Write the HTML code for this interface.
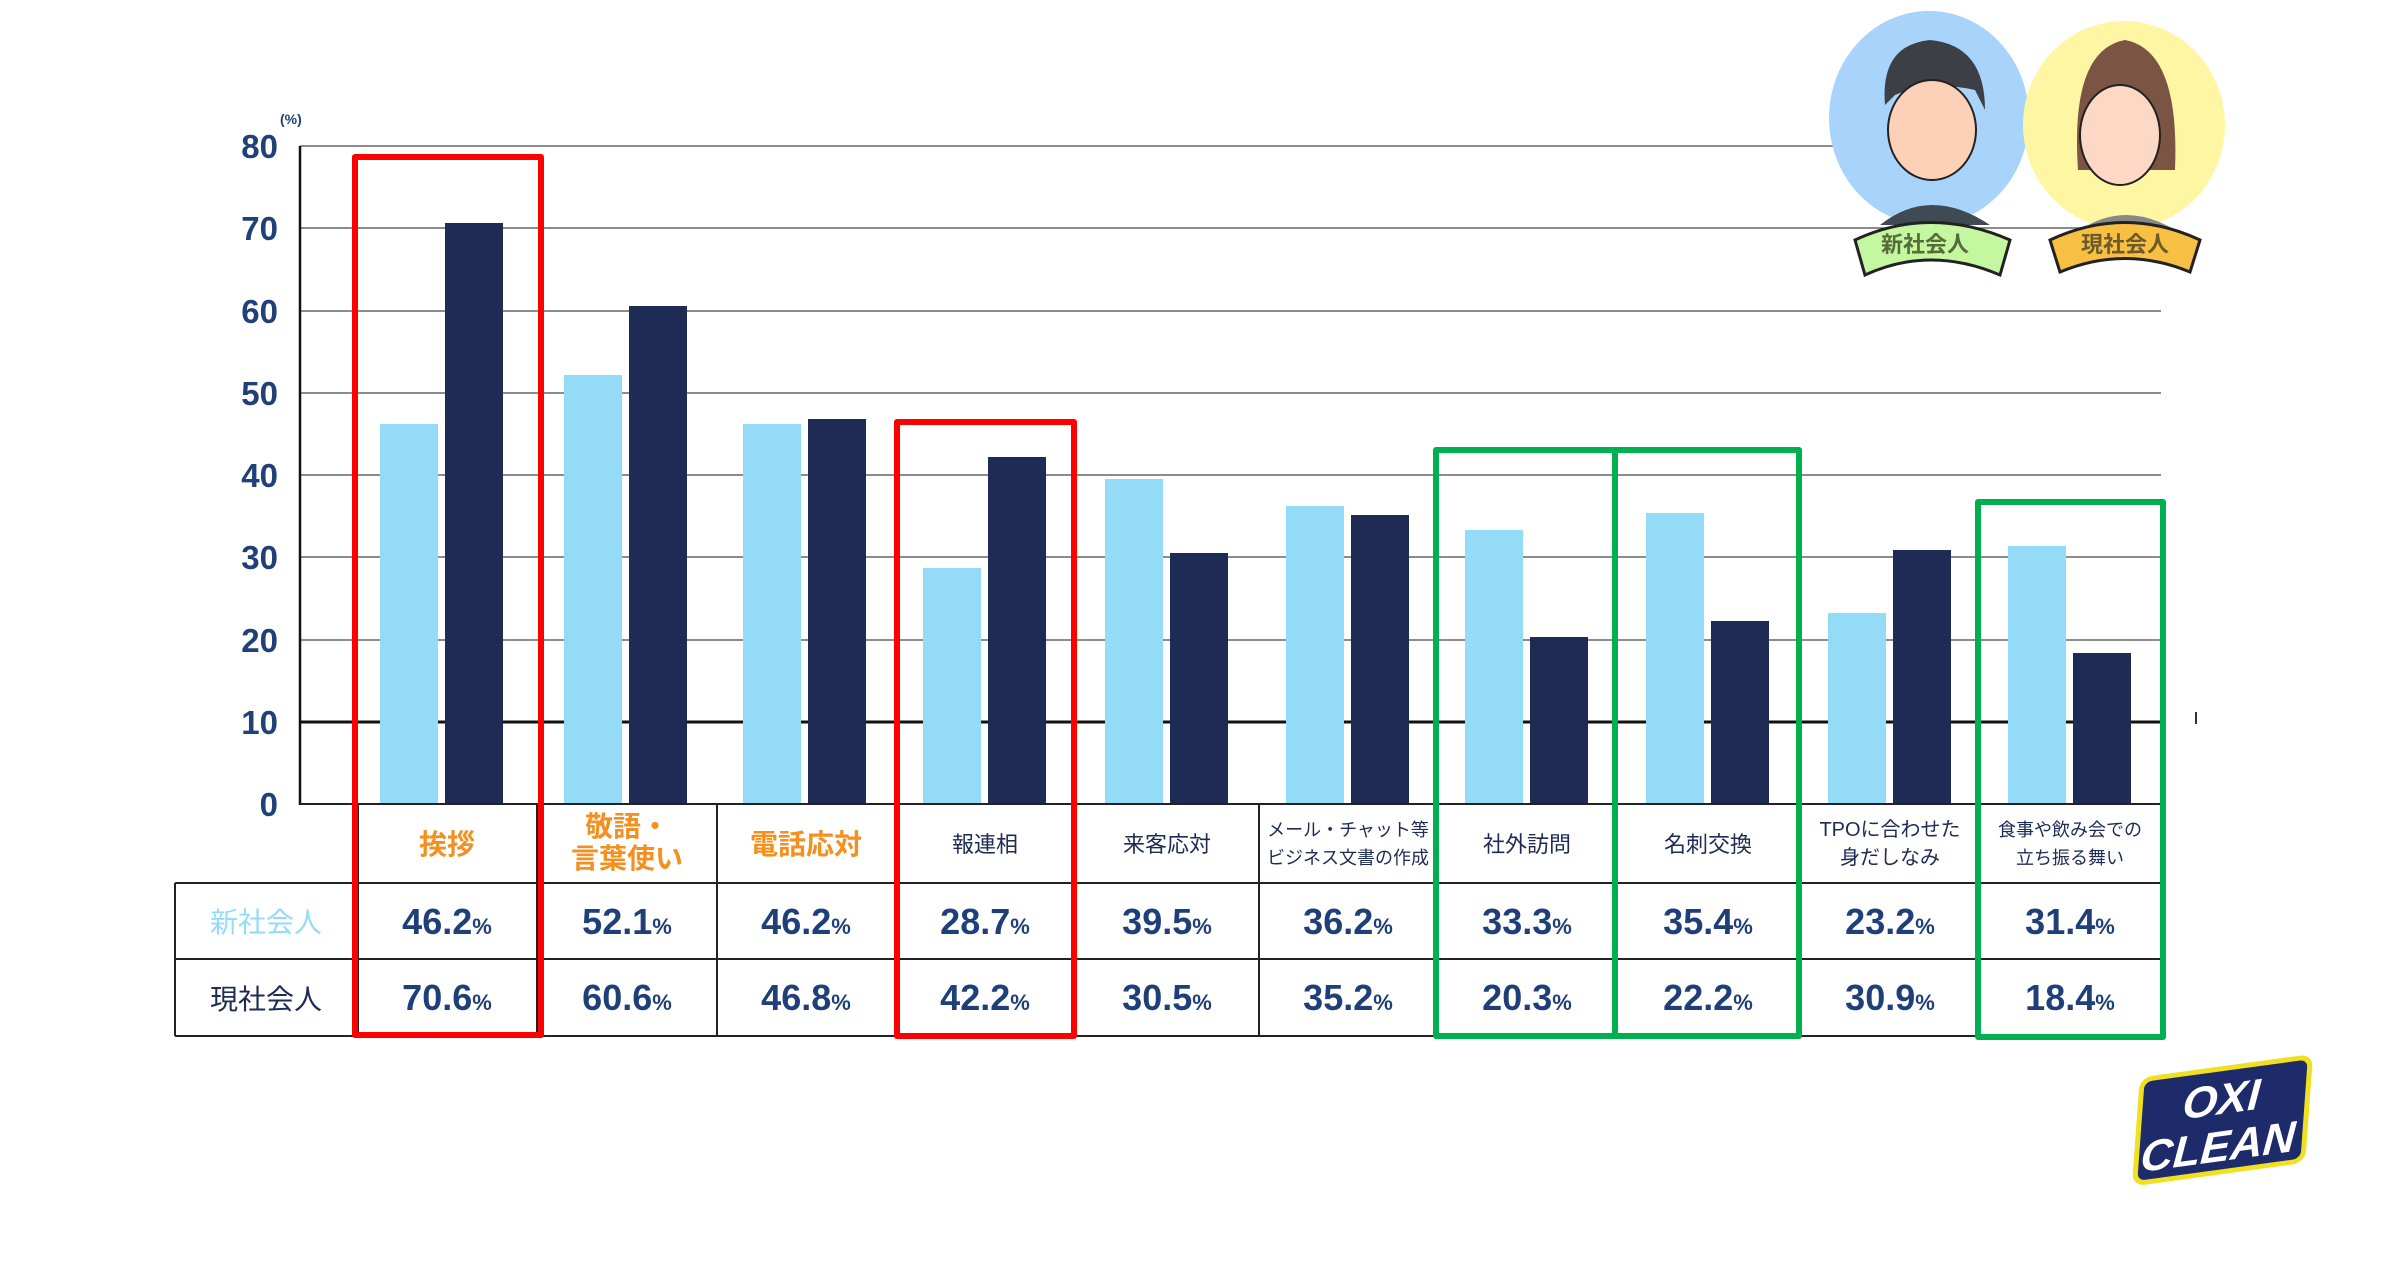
<!DOCTYPE html>
<html><head><meta charset="utf-8"><style>
html,body{margin:0;padding:0;background:#fff}
svg{display:block}
text{font-family:"Liberation Sans","Noto Sans CJK JP",sans-serif}
</style></head><body>
<svg width="2407" height="1268" viewBox="0 0 2407 1268" xmlns="http://www.w3.org/2000/svg">
<g stroke="#666" stroke-width="1.5">
<line x1="300" y1="146" x2="2161" y2="146"/>
<line x1="300" y1="228" x2="2161" y2="228"/>
<line x1="300" y1="311" x2="2161" y2="311"/>
<line x1="300" y1="393" x2="2161" y2="393"/>
<line x1="300" y1="475" x2="2161" y2="475"/>
<line x1="300" y1="557" x2="2161" y2="557"/>
<line x1="300" y1="640" x2="2161" y2="640"/>
</g>
<line x1="300" y1="722" x2="2161" y2="722" stroke="#111" stroke-width="3"/>
<line x1="2196" y1="712" x2="2196" y2="724" stroke="#333" stroke-width="2"/>
<g font-size="33" font-weight="bold" fill="#1f4178" text-anchor="end">
<text x="278" y="158">80</text><text x="278" y="240">70</text><text x="278" y="323">60</text>
<text x="278" y="405">50</text><text x="278" y="487">40</text><text x="278" y="569">30</text>
<text x="278" y="652">20</text><text x="278" y="734">10</text><text x="278" y="816">0</text>
</g>
<text x="280" y="124" font-size="14" font-weight="bold" fill="#1f4178">(%)</text>
<g fill="#94dbf8">
<rect x="380" y="424" width="58" height="380"/><rect x="564" y="375" width="58" height="429"/>
<rect x="743" y="424" width="58" height="380"/><rect x="923" y="568" width="58" height="236"/>
<rect x="1105" y="479" width="58" height="325"/><rect x="1286" y="506" width="58" height="298"/>
<rect x="1465" y="530" width="58" height="274"/><rect x="1646" y="513" width="58" height="291"/>
<rect x="1828" y="613" width="58" height="191"/><rect x="2008" y="546" width="58" height="258"/>
</g>
<g fill="#1d2b55">
<rect x="445" y="223" width="58" height="581"/><rect x="629" y="306" width="58" height="498"/>
<rect x="808" y="419" width="58" height="385"/><rect x="988" y="457" width="58" height="347"/>
<rect x="1170" y="553" width="58" height="251"/><rect x="1351" y="515" width="58" height="289"/>
<rect x="1530" y="637" width="58" height="167"/><rect x="1711" y="621" width="58" height="183"/>
<rect x="1893" y="550" width="58" height="254"/><rect x="2073" y="653" width="58" height="151"/>
</g>
<line x1="300" y1="146" x2="300" y2="805" stroke="#111" stroke-width="2.5"/>
<g stroke="#222" stroke-width="2" fill="none">
<line x1="300" y1="804" x2="2161" y2="804"/>
<line x1="175" y1="883" x2="2161" y2="883"/>
<line x1="175" y1="959" x2="2161" y2="959"/>
<line x1="175" y1="1036" x2="2161" y2="1036"/>
<line x1="175" y1="883" x2="175" y2="1036"/>
<line x1="358" y1="804" x2="358" y2="1036"/>
<line x1="537" y1="804" x2="537" y2="1036"/>
<line x1="717" y1="804" x2="717" y2="1036"/>
<line x1="895" y1="804" x2="895" y2="1036"/>
<line x1="1075" y1="804" x2="1075" y2="1036"/>
<line x1="1259" y1="804" x2="1259" y2="1036"/>
<line x1="1438" y1="804" x2="1438" y2="1036"/>
<line x1="1616" y1="804" x2="1616" y2="1036"/>
<line x1="1801" y1="804" x2="1801" y2="1036"/>
<line x1="1980" y1="804" x2="1980" y2="1036"/>
<line x1="2161" y1="804" x2="2161" y2="1036"/>
</g>
<g font-weight="bold" text-anchor="middle" fill="#f39020" font-size="28">
<text x="447" y="854">挨拶</text>
<text x="627" y="836">敬語・</text>
<text x="627" y="868">言葉使い</text>
<text x="806" y="854">電話応対</text>
</g>
<g font-size="22" text-anchor="middle" fill="#1d2b55">
<text x="985" y="852">報連相</text>
<text x="1167" y="852">来客応対</text>
<text x="1348" y="836" font-size="18">メール・チャット等</text>
<text x="1348" y="864" font-size="18">ビジネス文書の作成</text>
<text x="1527" y="852">社外訪問</text>
<text x="1708" y="852">名刺交換</text>
<text x="1890" y="836" font-size="20">TPOに合わせた</text>
<text x="1890" y="864" font-size="20">身だしなみ</text>
<text x="2070" y="836" font-size="18">食事や飲み会での</text>
<text x="2070" y="864" font-size="18">立ち振る舞い</text>
</g>
<text x="266" y="932" font-size="28" text-anchor="middle" fill="#94dbf8">新社会人</text>
<text x="266" y="1009" font-size="28" text-anchor="middle" fill="#1d2b55">現社会人</text>
<g font-size="36" font-weight="bold" fill="#1f3f78" text-anchor="middle">
<text x="447" y="934">46.2<tspan font-size="22">%</tspan></text>
<text x="627" y="934">52.1<tspan font-size="22">%</tspan></text>
<text x="806" y="934">46.2<tspan font-size="22">%</tspan></text>
<text x="985" y="934">28.7<tspan font-size="22">%</tspan></text>
<text x="1167" y="934">39.5<tspan font-size="22">%</tspan></text>
<text x="1348" y="934">36.2<tspan font-size="22">%</tspan></text>
<text x="1527" y="934">33.3<tspan font-size="22">%</tspan></text>
<text x="1708" y="934">35.4<tspan font-size="22">%</tspan></text>
<text x="1890" y="934">23.2<tspan font-size="22">%</tspan></text>
<text x="2070" y="934">31.4<tspan font-size="22">%</tspan></text>
<text x="447" y="1010">70.6<tspan font-size="22">%</tspan></text>
<text x="627" y="1010">60.6<tspan font-size="22">%</tspan></text>
<text x="806" y="1010">46.8<tspan font-size="22">%</tspan></text>
<text x="985" y="1010">42.2<tspan font-size="22">%</tspan></text>
<text x="1167" y="1010">30.5<tspan font-size="22">%</tspan></text>
<text x="1348" y="1010">35.2<tspan font-size="22">%</tspan></text>
<text x="1527" y="1010">20.3<tspan font-size="22">%</tspan></text>
<text x="1708" y="1010">22.2<tspan font-size="22">%</tspan></text>
<text x="1890" y="1010">30.9<tspan font-size="22">%</tspan></text>
<text x="2070" y="1010">18.4<tspan font-size="22">%</tspan></text>
</g>
<g fill="none" stroke-width="6" stroke-linejoin="round">
<rect x="355" y="157" width="186" height="878" stroke="#ff0000"/>
<rect x="897" y="422" width="177" height="614" stroke="#ff0000"/>
<rect x="1436" y="450" width="179" height="586" stroke="#00b050"/>
<rect x="1615" y="450" width="184" height="586" stroke="#00b050"/>
<rect x="1978" y="502" width="185" height="535" stroke="#00b050"/>
</g>
<ellipse cx="1929" cy="118" rx="100" ry="107" fill="#a8d4fb"/>
<ellipse cx="2124" cy="125" rx="101" ry="104" fill="#fff6a4"/>
<path d="M1885 105 Q1880 45 1930 40 Q1985 45 1985 110 L1975 90 Q1930 80 1895 95 Z" fill="#3c4046"/>
<ellipse cx="1932" cy="130" rx="44" ry="50" fill="#fdd0b8" stroke="#222" stroke-width="2"/>
<path d="M1880 225 Q1930 185 1990 225 Z" fill="#3f4a52"/>
<path d="M2078 170 Q2070 50 2125 40 Q2180 50 2175 170 Z" fill="#7a5544"/>
<ellipse cx="2120" cy="135" rx="40" ry="50" fill="#fdd8c4" stroke="#222" stroke-width="2"/>
<path d="M2080 230 Q2125 200 2175 230 Z" fill="#888"/>
<path d="M1855 240 Q1930 205 2010 240 L2000 275 Q1930 245 1865 275 Z" fill="#c4f7a0" stroke="#222" stroke-width="3"/>
<path d="M2050 240 Q2125 205 2200 240 L2190 272 Q2125 245 2060 272 Z" fill="#f7c043" stroke="#222" stroke-width="3"/>
<text x="1925" y="252" font-size="22" font-weight="bold" fill="#556b3a" text-anchor="middle">新社会人</text>
<text x="2125" y="252" font-size="22" font-weight="bold" fill="#6b5a2a" text-anchor="middle">現社会人</text>
<g transform="translate(2220,1120) skewX(-12) rotate(-8)">
<rect x="-80" y="-52" width="165" height="105" rx="10" fill="#1d2b6b" stroke="#f0e020" stroke-width="5"/>
<text x="0" y="-6" font-size="44" font-weight="bold" font-style="italic" fill="#fff" text-anchor="middle">OXI</text>
<text x="0" y="42" font-size="44" font-weight="bold" font-style="italic" fill="#fff" text-anchor="middle">CLEAN</text>
</g>
</svg>
</body></html>
